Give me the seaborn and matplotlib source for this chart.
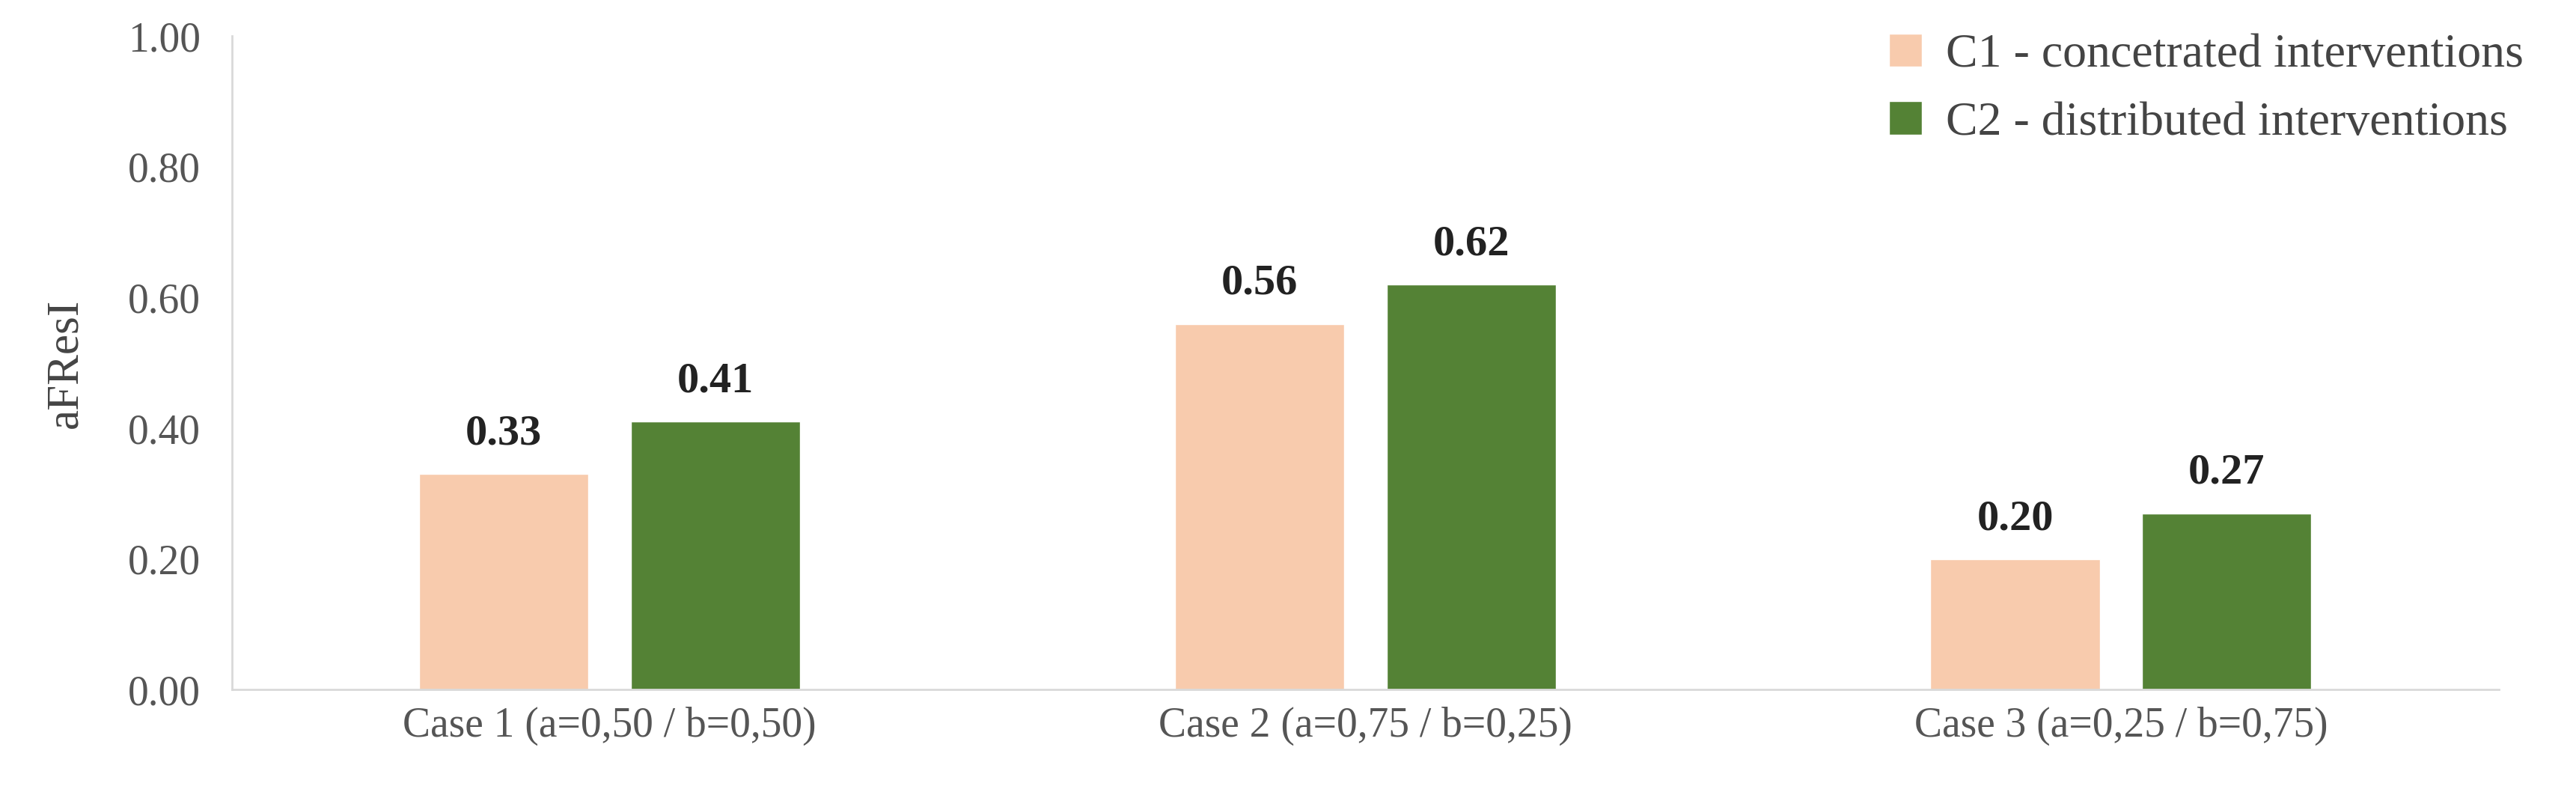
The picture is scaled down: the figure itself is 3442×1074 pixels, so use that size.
import pandas as pd
import matplotlib.pyplot as plt
import seaborn as sns
from matplotlib.ticker import FormatStrFormatter

cases = ["Case 1 (a=0,50 / b=0,50)", "Case 2 (a=0,75 / b=0,25)", "Case 3 (a=0,25 / b=0,75)"]
series = ["C1 - concetrated interventions", "C2 - distributed interventions"]
c1_values = [0.33, 0.56, 0.20]
c2_values = [0.41, 0.62, 0.27]
colors = ["#F8CBAD", "#548235"]

data = pd.DataFrame({
    "case": cases * 2,
    "series": [series[0]] * 3 + [series[1]] * 3,
    "value": c1_values + c2_values,
})

sns.set_theme(style="white")
plt.rcParams["font.family"] = ["Liberation Serif", "DejaVu Serif"]

fig, ax = plt.subplots(figsize=(34.42, 10.74), dpi=100)
sns.barplot(data=data, x="case", y="value", hue="series", palette=colors,
            width=0.56, gap=0.2, ax=ax, saturation=1)

for cont in ax.containers:
    ax.bar_label(cont, fmt="%.2f", padding=20, fontsize=42, fontweight="bold", color="#222222")

ax.set_ylim(0, 1.0)
ax.set_yticks([0, 0.2, 0.4, 0.6, 0.8, 1.0])
ax.yaxis.set_major_formatter(FormatStrFormatter("%.2f"))
ax.set_xlabel("")
ax.set_ylabel("aFResI", fontsize=44, color="#444444", labelpad=40)
ax.tick_params(axis="both", labelsize=40, colors="#555555", length=0)
ax.tick_params(axis="x", pad=16)
ax.tick_params(axis="y", pad=30)
for s in ["top", "right"]:
    ax.spines[s].set_visible(False)
for s in ["left", "bottom"]:
    ax.spines[s].set_color("#D9D9D9")
    ax.spines[s].set_linewidth(2)

leg = ax.legend(loc="upper right", bbox_to_anchor=(1.03, 1.07), frameon=False,
                fontsize=46, handlelength=0.7, handleheight=0.7, labelspacing=0.5,
                handletextpad=0.5)
for t in leg.get_texts():
    t.set_color("#444444")

fig.subplots_adjust(left=0.09, right=0.97, bottom=0.142, top=0.955)
fig.savefig("out.png", dpi=100)
